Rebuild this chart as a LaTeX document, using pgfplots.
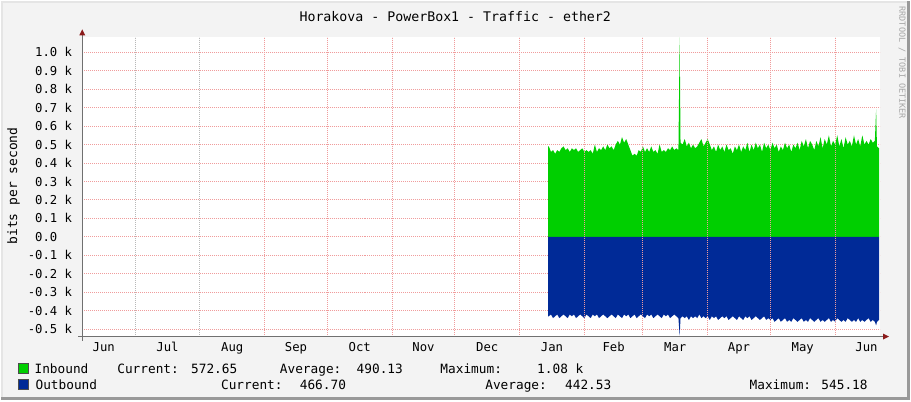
\documentclass[border=0pt]{standalone}
\usepackage{pgfplots}
\usepackage{pgfplotstable}
\pgfplotsset{compat=1.18}
\usepackage{fontspec}
\setmainfont{DejaVu Sans Mono}
\setmonofont{DejaVu Sans Mono}
\definecolor{bg}{HTML}{F3F3F3}
\definecolor{inb}{HTML}{00CF00}
\definecolor{outb}{HTML}{002A97}
\definecolor{gridred}{HTML}{F09C9C}
\definecolor{gridgray}{HTML}{B8B8B8}
\definecolor{axgray}{HTML}{707070}
\definecolor{arrowred}{HTML}{8B1A1A}

\pgfplotstableread{
x y
227.6 0
227.6 0.49
228 0.49
229 0.46
230 0.47
231 0.45
232 0.47
233 0.46
234 0.48
235 0.49
236 0.47
237 0.48
238 0.46
239 0.48
240 0.47
241 0.48
242 0.46
243 0.47
244 0.48
245 0.46
246 0.47
247 0.46
248 0.47
249 0.45
250 0.50
251 0.46
252 0.48
253 0.47
254 0.49
255 0.47
256 0.50
257 0.48
258 0.49
259 0.47
260 0.50
261 0.52
262 0.50
263 0.54
264 0.51
265 0.53
266 0.50
267 0.47
268 0.44
269 0.45
270 0.44
271 0.47
272 0.46
273 0.49
274 0.46
275 0.48
276 0.46
277 0.49
278 0.46
279 0.47
280 0.45
281 0.50
282 0.46
283 0.47
284 0.46
285 0.48
286 0.47
287 0.49
288 0.47
289 0.48
290 0.47
290.6 1.08
291 0.51
292 0.50
293 0.53
294 0.49
295 0.51
296 0.48
297 0.50
298 0.48
299 0.49
300 0.51
301 0.53
302 0.49
303 0.51
304 0.53
305 0.50
306 0.47
307 0.49
308 0.46
309 0.50
310 0.47
311 0.49
312 0.46
313 0.50
314 0.47
315 0.48
316 0.45
317 0.49
318 0.47
319 0.50
320 0.46
321 0.49
322 0.47
323 0.51
324 0.46
325 0.50
326 0.47
327 0.51
328 0.48
329 0.50
330 0.46
331 0.51
332 0.48
333 0.50
334 0.47
335 0.51
336 0.48
337 0.50
338 0.46
339 0.49
340 0.47
341 0.51
342 0.48
343 0.50
344 0.46
345 0.50
346 0.48
347 0.51
348 0.47
349 0.52
350 0.49
351 0.53
352 0.48
353 0.52
354 0.50
355 0.47
356 0.52
357 0.49
358 0.54
359 0.48
360 0.53
361 0.50
362 0.55
363 0.49
364 0.52
365 0.50
366 0.55
367 0.49
368 0.53
369 0.48
370 0.54
371 0.50
372 0.52
373 0.49
374 0.55
375 0.50
376 0.53
377 0.49
378 0.55
379 0.50
380 0.52
381 0.50
382 0.53
383 0.51
384 0.52
384.6 0.69
385 0.49
386 0.48
386 0
}\inbound

\pgfplotstableread{
x y
227.6 0
227.6 -0.43
228 -0.43
229 -0.42
230 -0.44
231 -0.43
232 -0.42
233 -0.44
234 -0.43
235 -0.42
236 -0.43
237 -0.44
238 -0.42
239 -0.43
240 -0.42
241 -0.44
242 -0.43
243 -0.42
244 -0.43
245 -0.44
246 -0.42
247 -0.43
248 -0.44
249 -0.42
250 -0.43
251 -0.42
252 -0.44
253 -0.43
254 -0.42
255 -0.43
256 -0.44
257 -0.43
258 -0.42
259 -0.43
260 -0.44
261 -0.42
262 -0.43
263 -0.44
264 -0.42
265 -0.43
266 -0.42
267 -0.44
268 -0.43
269 -0.42
270 -0.44
271 -0.43
272 -0.42
273 -0.43
274 -0.44
275 -0.42
276 -0.43
277 -0.42
278 -0.44
279 -0.43
280 -0.42
281 -0.43
282 -0.44
283 -0.42
284 -0.43
285 -0.42
286 -0.44
287 -0.43
288 -0.42
289 -0.43
290 -0.44
290.6 -0.535
291 -0.44
292 -0.43
293 -0.44
294 -0.43
295 -0.45
296 -0.43
297 -0.44
298 -0.43
299 -0.44
300 -0.42
301 -0.44
302 -0.43
303 -0.44
304 -0.43
305 -0.45
306 -0.43
307 -0.44
308 -0.43
309 -0.45
310 -0.44
311 -0.43
312 -0.44
313 -0.43
314 -0.45
315 -0.44
316 -0.43
317 -0.44
318 -0.45
319 -0.43
320 -0.44
321 -0.45
322 -0.43
323 -0.44
324 -0.43
325 -0.45
326 -0.44
327 -0.43
328 -0.44
329 -0.45
330 -0.44
331 -0.43
332 -0.45
333 -0.44
334 -0.45
335 -0.44
336 -0.46
337 -0.45
338 -0.44
339 -0.46
340 -0.45
341 -0.44
342 -0.46
343 -0.45
344 -0.46
345 -0.44
346 -0.45
347 -0.46
348 -0.45
349 -0.44
350 -0.46
351 -0.45
352 -0.46
353 -0.44
354 -0.45
355 -0.46
356 -0.45
357 -0.44
358 -0.46
359 -0.45
360 -0.46
361 -0.45
362 -0.44
363 -0.46
364 -0.45
365 -0.46
366 -0.44
367 -0.45
368 -0.46
369 -0.45
370 -0.46
371 -0.44
372 -0.45
373 -0.46
374 -0.45
375 -0.46
376 -0.44
377 -0.46
378 -0.45
379 -0.46
380 -0.45
381 -0.44
382 -0.46
383 -0.45
384 -0.46
384.6 -0.48
385 -0.46
386 -0.45
386 0
}\outbound

\pgfplotsset{
  rrdbase/.style={
    at={(81bp,64bp)}, anchor=south west,
    scale only axis, width=800bp, height=300bp,
    xmin=4.72, xmax=386.5, ymin=-0.540, ymax=1.0805,
    axis line style={draw=none},
    tick style={draw=none},
    major grid style={gridred, dash pattern=on 1bp off 1bp, line width=1bp},
    minor grid style={gridgray, dash pattern=on 1bp off 1bp, line width=1bp},
  }
}

\begin{document}
\begin{tikzpicture}
% background and frame
\fill[bg] (0,0) rectangle (911bp,400bp);
\draw[color=white!80!gray, line width=2bp] (1bp,0) -- (1bp,399bp) -- (911bp,399bp);
\draw[color=black!40, line width=3bp] (909.5bp,400bp) -- (909.5bp,1.5bp) -- (0,1.5bp);

% main axis: horizontal grid under the data, month labels
\begin{axis}[
  rrdbase,
  axis background/.style={fill=white},
  xtick={15,45.5,76.5,107,137.5,168,198.5,229.5,259,288.5,319,349.5,380},
  xticklabels={Jun,Jul,Aug,Sep,Oct,Nov,Dec,Jan,Feb,Mar,Apr,May,Jun},
  xticklabel style={anchor=base, inner sep=0pt, yshift=-15bp},
  ymajorgrids,
  ytick={-0.5,-0.4,-0.3,-0.2,-0.1,0,0.1,0.2,0.3,0.4,0.5,0.6,0.7,0.8,0.9,1.0},
  yticklabels={-0.5 k,-0.4 k,-0.3 k,-0.2 k,-0.1 k,0.0\phantom{xx},0.1 k,0.2 k,0.3 k,0.4 k,0.5 k,0.6 k,0.7 k,0.8 k,0.9 k,1.0 k},
  yticklabel style={anchor=east, inner sep=0pt, xshift=-10bp},
  ticklabel style={font=\fontsize{12.3bp}{14bp}\selectfont, text=black},
]
\addplot[draw=none, fill=inb] table[x=x, y=y] {\inbound} -- cycle;
\addplot[draw=none, fill=outb] table[x=x, y=y] {\outbound} -- cycle;
\end{axis}

% overlay axis: vertical month grid drawn over the data
\begin{axis}[
  rrdbase,
  xtick={92,122,153,183,214,245,273,304,334,365},
  xticklabels={},
  minor xtick={30,61},
  xmajorgrids, xminorgrids,
  ytick=\empty,
]
\end{axis}

% axis lines and arrows
\draw[axgray, line width=1bp] (77bp,64bp) -- (884bp,64bp);
\draw[axgray, line width=1bp] (81bp,60bp) -- (81bp,366bp);
\fill[arrowred] (884bp,61bp) -- (890bp,64bp) -- (884bp,67bp) -- cycle;
\fill[arrowred] (78bp,366bp) -- (81bp,372bp) -- (84bp,366bp) -- cycle;

% title and labels
\node[font=\fontsize{13.3bp}{15bp}\selectfont] at (455bp,385bp) {Horakova - PowerBox1 - Traffic - ether2};
\node[rotate=90, font=\fontsize{13bp}{15bp}\selectfont] at (12bp,215bp) {bits per second};
\node[rotate=-90, anchor=west, text=black!35, font=\fontsize{8.5bp}{10bp}\selectfont, inner sep=0pt] at (903bp,395bp) {RRDTOOL / TOBI OETIKER};

% legend
\filldraw[fill=inb, draw=black!70, line width=0.8bp] (17bp,27bp) rectangle (27bp,37bp);
\filldraw[fill=outb, draw=black!70, line width=0.8bp] (17bp,11bp) rectangle (27bp,21bp);
\begin{scope}[every node/.style={anchor=base west, inner sep=0pt, font=\fontsize{12.8bp}{15bp}\selectfont}]
\node at (33bp,27bp) {Inbound};
\node at (116bp,27bp) {Current:};
\node at (190bp,27bp) {572.65};
\node at (279bp,27bp) {Average:};
\node at (356bp,27bp) {490.13};
\node at (440bp,27bp) {Maximum:};
\node at (537bp,27bp) {1.08 k};
\node at (34bp,11.3bp) {Outbound};
\node at (220bp,11.3bp) {Current:};
\node at (299bp,11.3bp) {466.70};
\node at (485bp,11.3bp) {Average:};
\node at (565bp,11.3bp) {442.53};
\node at (750bp,11.3bp) {Maximum:};
\node at (822bp,11.3bp) {545.18};
\end{scope}
\end{tikzpicture}
\end{document}
